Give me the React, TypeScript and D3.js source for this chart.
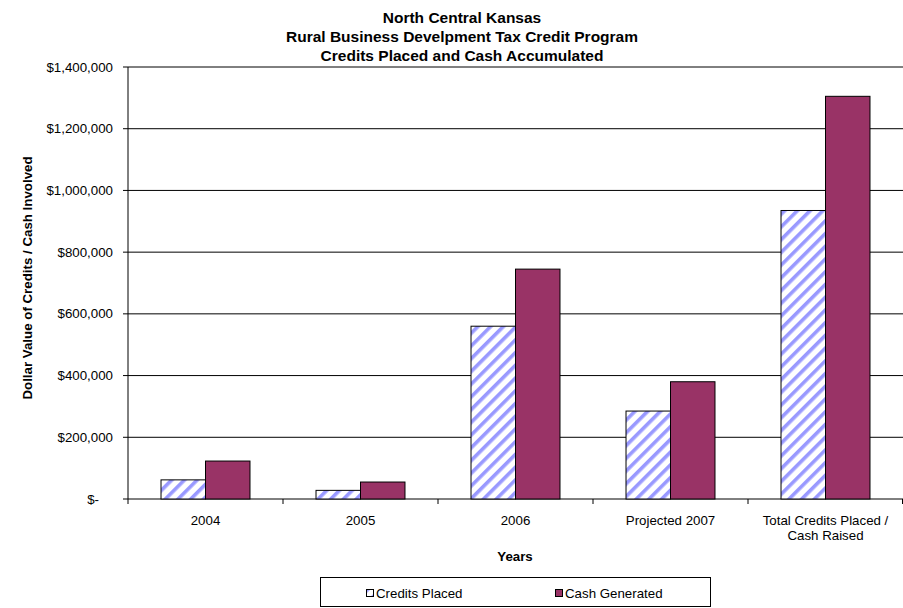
import React from "react";
import * as d3 from "d3";

const categories = ["2004", "2005", "2006", "Projected 2007", "Total Credits Placed /\nCash Raised"];
const creditsPlaced = [62000, 28000, 560000, 285000, 935000];
const cashGenerated = [123000, 55000, 745000, 380000, 1305000];
const yTicks = [0, 200000, 400000, 600000, 800000, 1000000, 1200000, 1400000];
const seriesNames = ["Credits Placed", "Cash Generated"];
const titleLines = ["North Central Kansas", "Rural Business Develpment Tax Credit Program", "Credits Placed and Cash Accumulated"];

const W = 903, H = 608;
const M = { left: 128, right: 903, top: 67, bottom: 499 };
const FONT = "Arial, 'Liberation Sans', sans-serif";
const CASH = "#993366";
const HATCH = "#9999ff";
const FS = 13.3;

export default function App() {
  const x = d3.scaleBand<string>().domain(categories).range([M.left, M.right]).paddingInner(0.426).paddingOuter(0.213);
  const x1 = d3.scaleBand<string>().domain(seriesNames).range([0, x.bandwidth()]);
  const y = d3.scaleLinear().domain([0, 1400000]).range([M.bottom, M.top]);
  const step = (M.right - M.left) / categories.length;
  const fmt = (v: number) => (v === 0 ? "$-" : "$" + d3.format(",")(v));

  return (
    <svg width={W} height={H} style={{ position: "absolute", left: 0, top: 0, background: "#fff" }} fontFamily={FONT}>
      <defs>
        <pattern id="hatch" patternUnits="userSpaceOnUse" width={9} height={9} patternTransform="rotate(45)">
          <rect width={9} height={9} fill="#fff" />
          <rect width={3.6} height={9} fill={HATCH} />
        </pattern>
      </defs>
      <rect width={W} height={H} fill="#fff" />
      {titleLines.map((t, i) => (
        <text key={i} x={462} y={23 + i * 19} textAnchor="middle" fontSize={15.5} fontWeight="bold">{t}</text>
      ))}
      {yTicks.map((t) => (
        <g key={t}>
          <line x1={M.left - 5} x2={M.right} y1={y(t)} y2={y(t)} stroke="#000" strokeWidth={1} />
          <text x={t === 0 ? 99 : 113} y={y(t) + 4.5} textAnchor="end" fontSize={FS}>{fmt(t)}</text>
        </g>
      ))}
      <line x1={M.left} x2={M.left} y1={M.top} y2={M.bottom} stroke="#000" />
      {categories.map((c, i) => (
        <line key={"tk" + i} x1={M.left + step * i} x2={M.left + step * i} y1={M.bottom} y2={M.bottom + 5} stroke="#000" />
      ))}
      <line x1={M.right - 0.5} x2={M.right - 0.5} y1={M.bottom} y2={M.bottom + 5} stroke="#000" />
      {categories.map((c, i) => {
        const gx = x(c)!;
        return (
          <g key={c}>
            <rect x={gx + x1("Credits Placed")!} y={y(creditsPlaced[i])} width={x1.bandwidth()} height={M.bottom - y(creditsPlaced[i])} fill="url(#hatch)" stroke="#000" strokeWidth={1} />
            <rect x={gx + x1("Cash Generated")!} y={y(cashGenerated[i])} width={x1.bandwidth()} height={M.bottom - y(cashGenerated[i])} fill={CASH} stroke="#000" strokeWidth={1} />
            {c.split("\n").map((ln, j) => (
              <text key={j} x={gx + x.bandwidth() / 2} y={525 + j * 15} textAnchor="middle" fontSize={FS}>{ln}</text>
            ))}
          </g>
        );
      })}
      <text x={515} y={561} textAnchor="middle" fontSize={FS} fontWeight="bold">Years</text>
      <text transform={`translate(32,${(M.top + M.bottom) / 2 - 5}) rotate(-90)`} textAnchor="middle" fontSize={FS} fontWeight="bold">Dollar Value of Credits / Cash Involved</text>
      <rect x={320.5} y={577.5} width={390} height={29} fill="#fff" stroke="#000" />
      <rect x={366.5} y={589.5} width={7} height={7} fill="url(#hatch)" stroke="#000" />
      <text x={376} y={598} fontSize={FS}>Credits Placed</text>
      <rect x={555.5} y={589.5} width={7} height={7} fill={CASH} stroke="#000" />
      <text x={565} y={598} fontSize={FS}>Cash Generated</text>
    </svg>
  );
}
